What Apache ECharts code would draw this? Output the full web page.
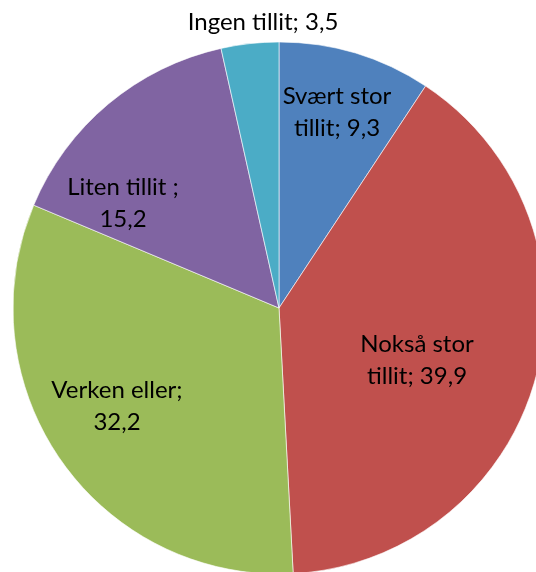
<!DOCTYPE html>
<html>
<head>
<meta charset="utf-8">
<script src="https://cdn.jsdelivr.net/npm/echarts@6/dist/echarts.min.js"></script>
<style>
    html, body { margin: 0; padding: 0; background: #fff; }
    #container { width: 536px; height: 572px; }
</style>
</head>
<body>
<div id="container"></div>
<script>
var names = ['Svært stor tillit', 'Nokså stor tillit', 'Verken eller', 'Liten tillit', 'Ingen tillit'];
var values = [9.3, 39.9, 32.2, 15.2, 3.5];
var labelTexts = ['Svært stor\ntillit; 9,3', 'Nokså stor\ntillit; 39,9', 'Verken eller;\n32,2', 'Liten tillit ;\n15,2', 'Ingen tillit; 3,5'];
var colors = ['#4F81BD', '#C0504D', '#9BBB59', '#8064A2', '#4BACC6'];

// where Excel put each label (centre of the text block)
var labelPos = [[337, 112], [417, 360], [117, 406], [123, 203], [263, 22]];

var myChart = echarts.init(document.getElementById('container'));
var option = {
    animation: false,
    series: [
        {
            type: 'pie',
            center: [279, 308],
            radius: 266,
            startAngle: 90,
            clockwise: true,
            avoidLabelOverlap: false,
            itemStyle: {
                borderColor: '#ffffff',
                borderWidth: 0.6
            },
            label: {
                show: true,
                position: 'inside',
                color: '#000',
                fontFamily: 'Lato',
                fontSize: 24,
                lineHeight: 32,
                align: 'center',
                formatter: function (p) {
                    return labelTexts[p.dataIndex];
                }
            },
            labelLine: { show: false },
            labelLayout: function (params) {
                var p = labelPos[params.dataIndex];
                return {
                    x: p[0],
                    y: p[1],
                    align: 'center',
                    verticalAlign: 'middle'
                };
            },
            data: names.map(function (n, i) {
                return { name: n, value: values[i], itemStyle: { color: colors[i] } };
            })
        }
    ]
};
myChart.setOption(option);
</script>
</body>
</html>
